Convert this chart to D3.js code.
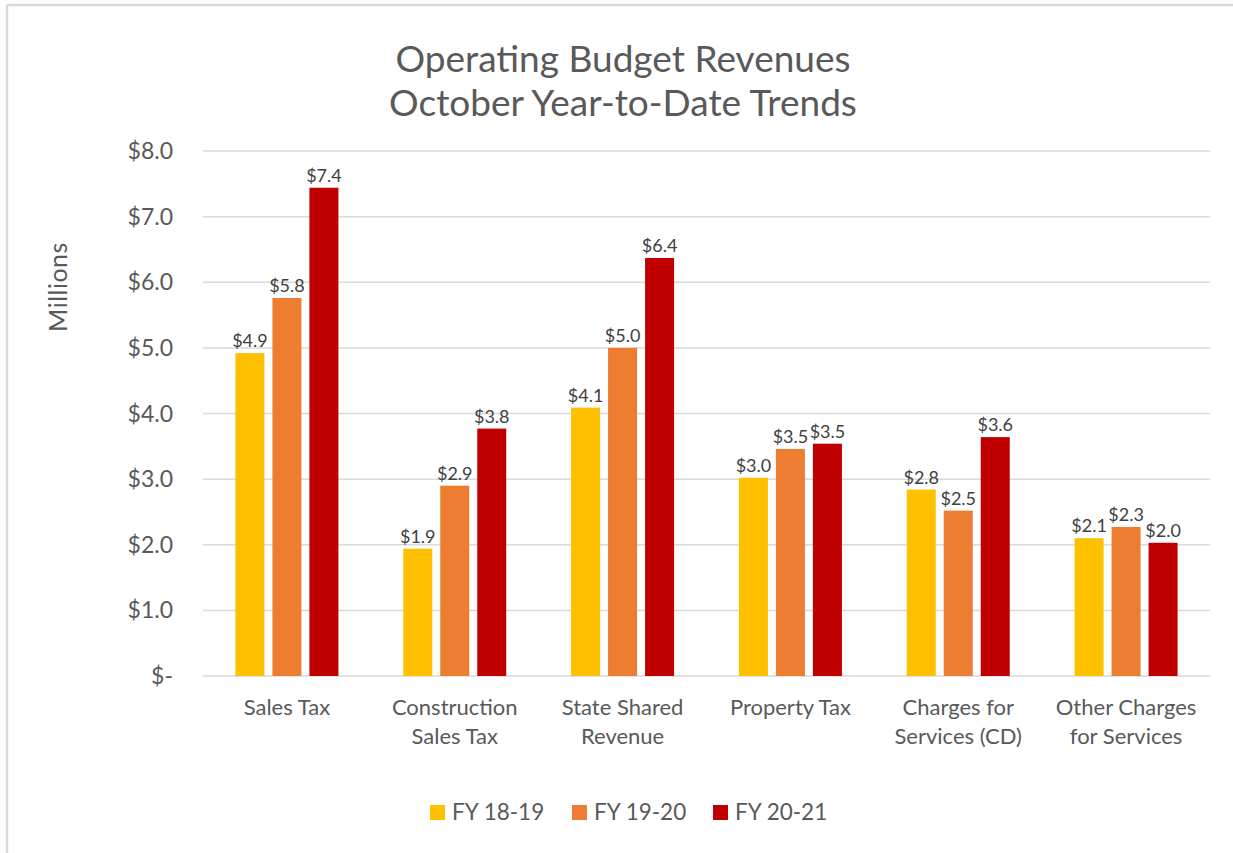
<!DOCTYPE html>
<html>
<head>
<meta charset="utf-8">
<script src="https://cdn.jsdelivr.net/npm/d3@7"></script>
<style>
  html, body { margin: 0; padding: 0; background: #fff; }
  svg { display: block; font-family: Lato, "Open Sans", sans-serif; }
</style>
</head>
<body>
<svg id="chart" width="1233" height="853"></svg>
<script>
const categories = [
  ["Sales Tax"],
  ["Construction", "Sales Tax"],
  ["State Shared", "Revenue"],
  ["Property Tax"],
  ["Charges for", "Services (CD)"],
  ["Other Charges", "for Services"]
];
const seriesNames = ["FY 18-19", "FY 19-20", "FY 20-21"];
const fy1819 = [4.92, 1.94, 4.09, 3.02, 2.84, 2.10];
const fy1920 = [5.76, 2.90, 5.00, 3.46, 2.52, 2.27];
const fy2021 = [7.44, 3.77, 6.37, 3.54, 3.64, 2.03];
const seriesColors = ["#FFC000", "#ED7D31", "#C00000"];
const yTicks = [0, 1, 2, 3, 4, 5, 6, 7, 8];
const titleLines = ["Operating Budget Revenues", "October Year-to-Date Trends"];

const seriesValues = [fy1819, fy1920, fy2021];
const svg = d3.select("#chart");

// chart border (left & top visible)
svg.append("line").attr("x1", 7).attr("x2", 7).attr("y1", 5).attr("y2", 853)
  .attr("stroke", "#D9D9D9").attr("stroke-width", 2.5);
svg.append("line").attr("x1", 7).attr("x2", 1233).attr("y1", 5).attr("y2", 5)
  .attr("stroke", "#D9D9D9").attr("stroke-width", 2.5);

const plot = { left: 203, right: 1210, top: 151, bottom: 676 };
const y = d3.scaleLinear().domain([0, 8]).range([plot.bottom, plot.top]);
const x = d3.scaleBand().domain(d3.range(categories.length)).range([plot.left, plot.right]);
const barW = 29, step = 37;

// title
svg.append("g").selectAll("text").data(titleLines).join("text")
  .attr("x", 623).attr("y", (d, i) => 72 + i * 44)
  .attr("text-anchor", "middle").attr("fill", "#595959")
  .attr("font-size", 37).text(d => d);

// gridlines
svg.append("g").selectAll("line").data(yTicks).join("line")
  .attr("x1", plot.left).attr("x2", plot.right)
  .attr("y1", d => y(d)).attr("y2", d => y(d))
  .attr("stroke", "#D9D9D9").attr("stroke-width", 1.5);

// y labels
svg.append("g").selectAll("text").data(yTicks).join("text")
  .attr("x", 173).attr("y", d => y(d)).attr("dy", "0.35em")
  .attr("text-anchor", "end").attr("fill", "#595959").attr("font-size", 23)
  .text(d => d === 0 ? "$-" : "$" + d3.format(".1f")(d));

// y title
svg.append("text").attr("transform", "translate(67,287) rotate(-90)")
  .attr("text-anchor", "middle").attr("fill", "#595959").attr("font-size", 25)
  .attr("letter-spacing", 0.5)
  .text("Millions");

// bars
seriesValues.forEach((vals, s) => {
  const g = svg.append("g");
  g.selectAll("rect").data(vals).join("rect")
    .attr("x", (d, i) => x(i) + x.bandwidth() / 2 + (s - 1) * step - barW / 2)
    .attr("width", barW)
    .attr("y", d => y(d)).attr("height", d => y(0) - y(d))
    .attr("fill", seriesColors[s]);
  g.selectAll("text").data(vals).join("text")
    .attr("x", (d, i) => x(i) + x.bandwidth() / 2 + (s - 1) * step)
    .attr("y", d => y(d) - 6)
    .attr("text-anchor", "middle").attr("fill", "#404040").attr("font-size", 18)
    .text(d => "$" + d3.format(".1f")(d));
});

// category labels
const cg = svg.append("g").selectAll("text").data(categories).join("text")
  .attr("x", (d, i) => x(i) + x.bandwidth() / 2)
  .attr("text-anchor", "middle").attr("fill", "#595959").attr("font-size", 22);
cg.selectAll("tspan").data(d => d).join("tspan")
  .attr("x", function () { return d3.select(this.parentNode).attr("x"); })
  .attr("y", (d, i) => 715 + i * 29)
  .text(d => d);

// legend
const legX = [430, 572, 713];
const lg = svg.append("g").selectAll("g").data(seriesNames).join("g")
  .attr("transform", (d, i) => `translate(${legX[i]},812)`);
lg.append("rect").attr("x", 0).attr("y", -7).attr("width", 15).attr("height", 15)
  .attr("fill", (d, i) => seriesColors[i]);
lg.append("text").attr("x", 22).attr("y", 0).attr("dy", "0.35em")
  .attr("fill", "#595959").attr("font-size", 22.5).text(d => d);
</script>
</body>
</html>
